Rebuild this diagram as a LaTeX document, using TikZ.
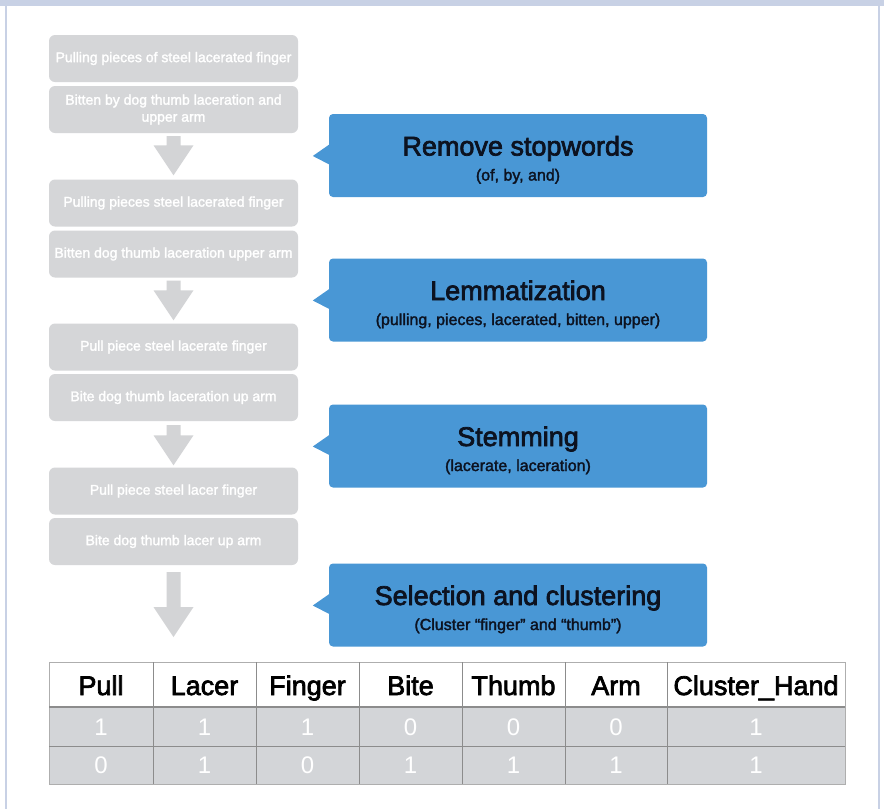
\documentclass[tikz,border=0pt]{standalone}
\usepackage{fontspec}
\setmainfont{Liberation Sans}
\newfontfamily\medfont{Liberation Sans}[FakeBold=2.6]
\newfontfamily\smfont{Liberation Sans}[FakeBold=2]
\usetikzlibrary{calc}
\definecolor{frameblue}{RGB}{200,209,229}
\definecolor{boxgray}{RGB}{213,214,216}
\definecolor{arrowgray}{RGB}{211,212,214}
\definecolor{calloutblue}{RGB}{73,151,213}
\definecolor{calltext}{RGB}{12,18,32}
\definecolor{gridgray}{RGB}{140,140,140}
\definecolor{rowgray}{RGB}{211,213,216}
\begin{document}
\begin{tikzpicture}[x=1pt,y=-1pt,
  gbox/.style={fill=boxgray, rounded corners=6pt, minimum width=249pt, minimum height=47pt,
    text=white, font=\smfont\fontsize{14}{17}\selectfont, align=center, inner sep=0pt},
  callout/.style={fill=calloutblue, rounded corners=4pt, minimum width=378pt, minimum height=83pt, inner sep=0pt},
  ttl/.style={anchor=base, text=calltext, font=\medfont\fontsize{27}{30}\selectfont, inner sep=0pt},
  subttl/.style={anchor=base, text=calltext, font=\smfont\fontsize{16}{19}\selectfont, inner sep=0pt},
  hdr/.style={anchor=base, text=black, font=\medfont\fontsize{27}{30}\selectfont, inner sep=0pt},
  num/.style={anchor=base, text=white, font=\fontsize{24}{28}\selectfont, inner sep=0pt},
  arr/.style={fill=arrowgray}
]
\useasboundingbox (0,0) rectangle (884,809);
% frame
\fill[white] (0,0) rectangle (884,809);
\fill[frameblue] (0,0) rectangle (884,6);
\draw[frameblue, line width=1.2pt] (6,6) -- (6,809);
\draw[frameblue, line width=1.2pt] (879,6) -- (879,809);

% grey boxes
\node[gbox] (b1) at (173.5,58.5) {Pulling pieces of steel lacerated finger};
\node[gbox] (b2) at (173.5,109.5) {Bitten by dog thumb laceration and\\upper arm};
\node[gbox] (b3) at (173.5,203) {Pulling pieces steel lacerated finger};
\node[gbox] (b4) at (173.5,254) {Bitten dog thumb laceration upper arm};
\node[gbox] (b5) at (173.5,347) {Pull piece steel lacerate finger};
\node[gbox] (b6) at (173.5,397.5) {Bite dog thumb laceration up arm};
\node[gbox] (b7) at (173.5,491) {Pull piece steel lacer finger};
\node[gbox] (b8) at (173.5,541.5) {Bite dog thumb lacer up arm};

% callouts
\node[callout] (c1) at (518,155.5) {};
\node[callout] (c2) at (518,300) {};
\node[callout] (c3) at (518,446) {};
\node[callout] (c4) at (518,605) {};
\foreach \c in {c1,c2,c3,c4}{
  \fill[calloutblue] ($(\c.west)+(0.5,-11)$) -- ($(\c.west)+(-16,0.5)$) -- ($(\c.west)+(0.5,9)$) -- cycle;
}
\node[ttl] (t1) at ($(c1.center)+(0,0)$) {Remove stopwords};
\node[subttl] (s1) at ($(c1.center)+(0,25)$) {(of, by, and)};
\node[ttl] (t2) at ($(c2.center)+(0,0)$) {Lemmatization};
\node[subttl] (s2) at ($(c2.center)+(0,25)$) {(pulling, pieces, lacerated, bitten, upper)};
\node[ttl] (t3) at ($(c3.center)+(0,0)$) {Stemming};
\node[subttl] (s3) at ($(c3.center)+(0,25)$) {(lacerate, laceration)};
\node[ttl] (t4) at ($(c4.center)+(0,0)$) {Selection and clustering};
\node[subttl] (s4) at ($(c4.center)+(0,25)$) {(Cluster “finger” and “thumb”)};

% table
\fill[white] (49,662) rectangle (845,707);
\fill[rowgray] (49,707) rectangle (845,784);
\draw[gridgray!70, line width=0.8pt] (49,662) rectangle (845,784);
\draw[gridgray, line width=1.4pt] (49,707) -- (845,707);
\draw[gridgray, line width=0.8pt] (49,746) -- (845,746);
\foreach \xx in {153,256,359,462,565,667}{
  \draw[gridgray, line width=0.8pt] (\xx,662) -- (\xx,784);
}
\coordinate (tabletop) at (173.5,662);

% block arrows
\coordinate (a1s) at ($(b2.south)+(0,3)$);
\coordinate (a1e) at ($(b3.north)+(0,-4)$);
\coordinate (a2s) at ($(b4.south)+(0,3)$);
\coordinate (a2e) at ($(b5.north)+(0,-3)$);
\coordinate (a3s) at ($(b6.south)+(0,4)$);
\coordinate (a3e) at ($(b7.north)+(0,-2)$);
\coordinate (a4s) at ($(b8.south)+(0,7)$);
\coordinate (a4e) at ($(tabletop)+(0,-25)$);
\foreach \s/\e in {a1s/a1e,a2s/a2e,a3s/a3e,a4s/a4e}{
  \fill[arr] ($(\s)+(-7,0)$) -- ($(\s)+(7,0)$) |- ($(\e)+(7,-30)$) -- ($(\e)+(20,-30)$) -- (\e)
     -- ($(\e)+(-20,-30)$) -- ($(\e)+(-7,-30)$) -| cycle;
}

% header
\node[hdr] (h1) at (101,695) {Pull};
\node[hdr] (h2) at (204.5,695) {Lacer};
\node[hdr] (h3) at (307.5,695) {Finger};
\node[hdr] (h4) at (410.5,695) {Bite};
\node[hdr] (h5) at (513.5,695) {Thumb};
\node[hdr] (h6) at (616,695) {Arm};
\node[hdr] (h7) at (756,695) {Cluster\_Hand};
% rows
\node[num] (r11) at (101,735) {1};
\node[num] (r12) at (204.5,735) {1};
\node[num] (r13) at (307.5,735) {1};
\node[num] (r14) at (410.5,735) {0};
\node[num] (r15) at (513.5,735) {0};
\node[num] (r16) at (616,735) {0};
\node[num] (r17) at (756,735) {1};
\node[num] (r21) at (101,773) {0};
\node[num] (r22) at (204.5,773) {1};
\node[num] (r23) at (307.5,773) {0};
\node[num] (r24) at (410.5,773) {1};
\node[num] (r25) at (513.5,773) {1};
\node[num] (r26) at (616,773) {1};
\node[num] (r27) at (756,773) {1};
\end{tikzpicture}
\end{document}
